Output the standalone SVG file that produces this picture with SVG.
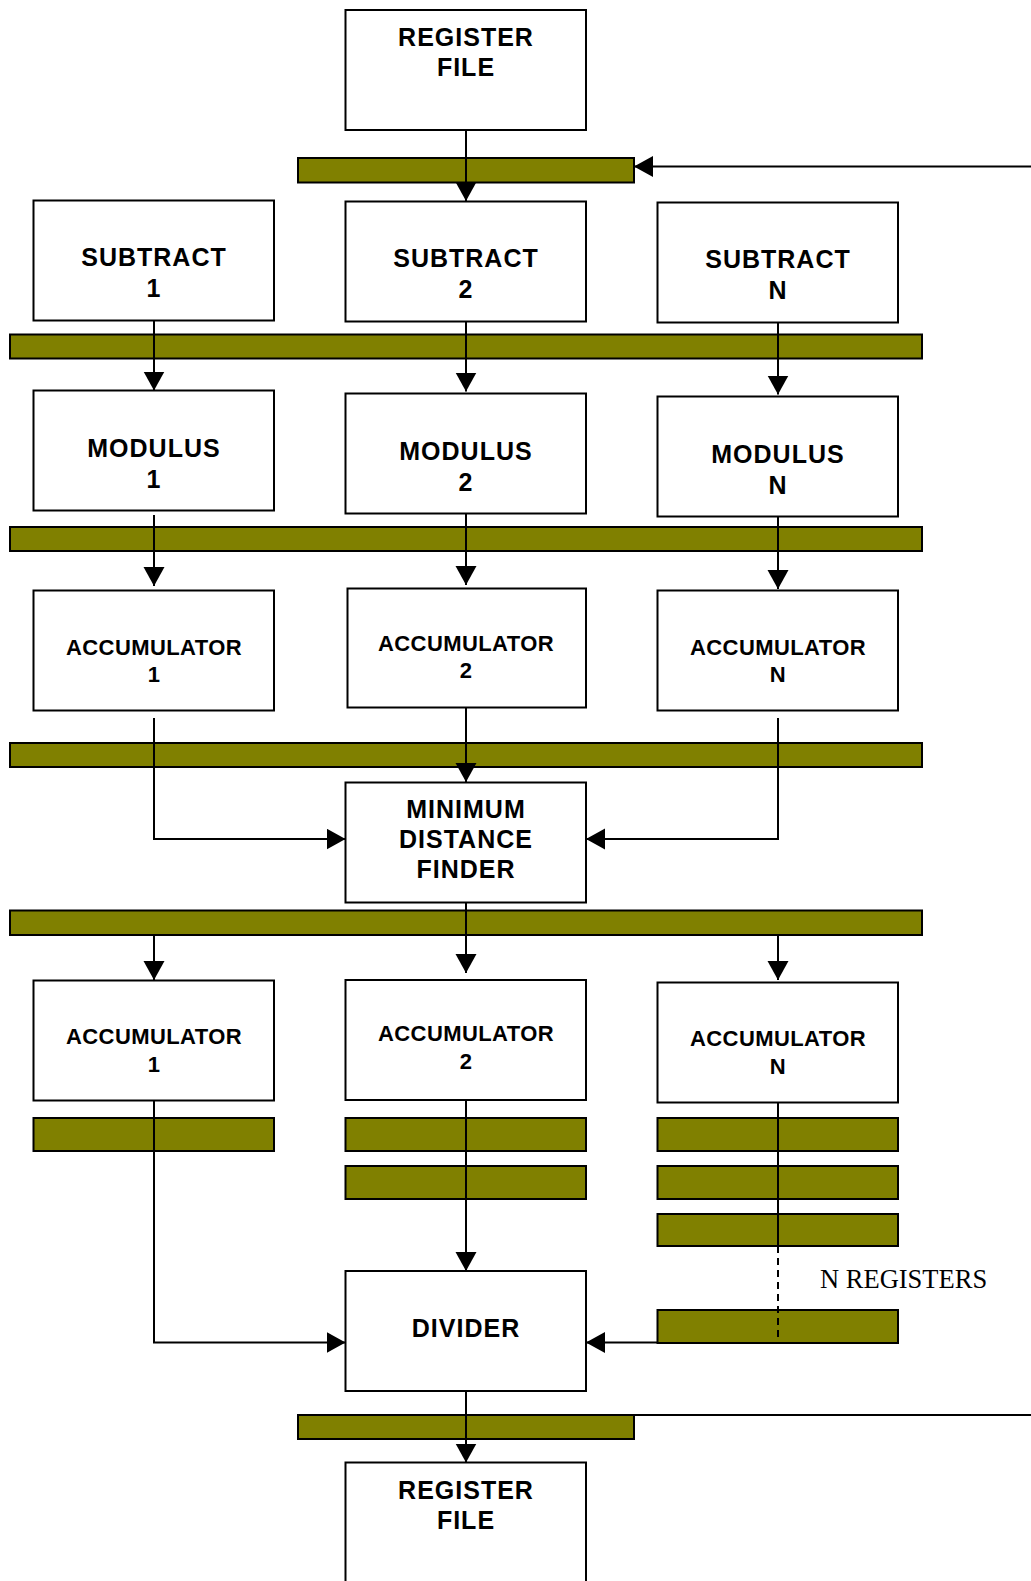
<svg xmlns="http://www.w3.org/2000/svg" width="1031" height="1581" viewBox="0 0 1031 1581">
  <style>
    .box { fill: #ffffff; stroke: #000000; stroke-width: 2; }
    .reg { fill: #808000; stroke: #000000; stroke-width: 2; }
    .lbl { font-family: "Liberation Sans", Arial, sans-serif; font-weight: bold; font-size: 25px; letter-spacing: 1px; text-anchor: middle; fill: #000000; }
    .acc { font-size: 22px; letter-spacing: 0.4px; }
    .note { font-family: "Liberation Serif", "Times New Roman", serif; font-size: 26.5px; fill: #000000; }
    .wire { fill: none; stroke: #000000; stroke-width: 2; }
    .arr { marker-end: url(#head); }
    .dash { stroke-dasharray: 7 5; }
  </style>
  <defs>
    <marker id="head" markerUnits="userSpaceOnUse" markerWidth="20" markerHeight="22" refX="19" refY="10.5" orient="auto">
      <path d="M0,0 L19,10.5 L0,21 z" fill="#000000"/>
    </marker>
  </defs>
  <rect width="1031" height="1581" fill="#ffffff"/>

  <!-- pipeline registers (olive bars) -->
  <g id="registers">
    <rect class="reg" x="298" y="158" width="336" height="24.5"/>
    <rect class="reg" x="10" y="334.5" width="912" height="24"/>
    <rect class="reg" x="10" y="527" width="912" height="24"/>
    <rect class="reg" x="10" y="743" width="912" height="24"/>
    <rect class="reg" x="10" y="910.5" width="912" height="24.5"/>
    <rect class="reg" x="33.5" y="1118" width="240.5" height="33"/>
    <rect class="reg" x="345.5" y="1118" width="240.5" height="33"/>
    <rect class="reg" x="345.5" y="1166" width="240.5" height="33"/>
    <rect class="reg" x="657.5" y="1118" width="240.5" height="33"/>
    <rect class="reg" x="657.5" y="1166" width="240.5" height="33"/>
    <rect class="reg" x="657.5" y="1214" width="240.5" height="32"/>
    <rect class="reg" x="657.5" y="1310" width="240.5" height="33"/>
    <rect class="reg" x="298" y="1415" width="336" height="24"/>
  </g>

  <!-- connectors -->
  <g id="connectors">
    <line class="wire arr" x1="1031" y1="166.5" x2="634" y2="166.5"/>
    <line class="wire arr" x1="466" y1="130" x2="466" y2="201"/>
    <line class="wire arr" x1="154" y1="320.5" x2="154" y2="390.5"/>
    <line class="wire arr" x1="466" y1="321.5" x2="466" y2="391.5"/>
    <line class="wire arr" x1="778" y1="322.5" x2="778" y2="394.5"/>
    <line class="wire arr" x1="154" y1="515" x2="154" y2="586"/>
    <line class="wire arr" x1="466" y1="514" x2="466" y2="585"/>
    <line class="wire arr" x1="778" y1="517" x2="778" y2="589"/>
    <polyline class="wire arr" points="154,718 154,839 345.5,839"/>
    <polyline class="wire arr" points="778,718 778,839 586,839"/>
    <line class="wire arr" x1="466" y1="708" x2="466" y2="782"/>
    <line class="wire arr" x1="154" y1="935" x2="154" y2="980"/>
    <line class="wire arr" x1="466" y1="902.5" x2="466" y2="973"/>
    <line class="wire arr" x1="778" y1="935" x2="778" y2="980"/>
    <polyline class="wire arr" points="154,1100.5 154,1342.5 345.5,1342.5"/>
    <line class="wire arr" x1="466" y1="1098" x2="466" y2="1271"/>
    <line class="wire" x1="778" y1="1103" x2="778" y2="1246"/>
    <line class="wire dash" x1="778" y1="1246" x2="778" y2="1342"/>
    <line class="wire arr" x1="657.5" y1="1342.5" x2="586" y2="1342.5"/>
    <line class="wire" x1="634" y1="1415" x2="1031" y2="1415"/>
    <line class="wire arr" x1="466" y1="1391" x2="466" y2="1462.5"/>
  </g>

  <g id="register-file-in">
    <rect class="box" x="345.5" y="10" width="240.5" height="120"/>
    <text class="lbl" x="466" y="45.5">REGISTER</text>
    <text class="lbl" x="466" y="76">FILE</text>
  </g>

  <g id="subtract-1">
    <rect class="box" x="33.5" y="200.5" width="240.5" height="120"/>
    <text class="lbl" x="154" y="265.5">SUBTRACT</text>
    <text class="lbl" x="154" y="296.5">1</text>
  </g>
  <g id="subtract-2">
    <rect class="box" x="345.5" y="201.5" width="240.5" height="120"/>
    <text class="lbl" x="466" y="266.5">SUBTRACT</text>
    <text class="lbl" x="466" y="297.5">2</text>
  </g>
  <g id="subtract-n">
    <rect class="box" x="657.5" y="202.5" width="240.5" height="120"/>
    <text class="lbl" x="778" y="267.5">SUBTRACT</text>
    <text class="lbl" x="778" y="298.5">N</text>
  </g>

  <g id="modulus-1">
    <rect class="box" x="33.5" y="390.5" width="240.5" height="120"/>
    <text class="lbl" x="154" y="456.5">MODULUS</text>
    <text class="lbl" x="154" y="487.5">1</text>
  </g>
  <g id="modulus-2">
    <rect class="box" x="345.5" y="393.5" width="240.5" height="120"/>
    <text class="lbl" x="466" y="459.5">MODULUS</text>
    <text class="lbl" x="466" y="490.5">2</text>
  </g>
  <g id="modulus-n">
    <rect class="box" x="657.5" y="396.5" width="240.5" height="120"/>
    <text class="lbl" x="778" y="462.5">MODULUS</text>
    <text class="lbl" x="778" y="493.5">N</text>
  </g>

  <g id="accumulator-a1">
    <rect class="box" x="33.5" y="590.5" width="240.5" height="120"/>
    <text class="lbl acc" x="154" y="654.5">ACCUMULATOR</text>
    <text class="lbl acc" x="154" y="682">1</text>
  </g>
  <g id="accumulator-a2">
    <rect class="box" x="347.5" y="588.5" width="238.5" height="119"/>
    <text class="lbl acc" x="466" y="650.5">ACCUMULATOR</text>
    <text class="lbl acc" x="466" y="677.5">2</text>
  </g>
  <g id="accumulator-an">
    <rect class="box" x="657.5" y="590.5" width="240.5" height="120"/>
    <text class="lbl acc" x="778" y="654.5">ACCUMULATOR</text>
    <text class="lbl acc" x="778" y="682">N</text>
  </g>

  <g id="minimum-distance-finder">
    <rect class="box" x="345.5" y="782.5" width="240.5" height="120"/>
    <text class="lbl" x="466" y="818">MINIMUM</text>
    <text class="lbl" x="466" y="848">DISTANCE</text>
    <text class="lbl" x="466" y="878">FINDER</text>
  </g>

  <g id="accumulator-b1">
    <rect class="box" x="33.5" y="980.5" width="240.5" height="120"/>
    <text class="lbl acc" x="154" y="1044">ACCUMULATOR</text>
    <text class="lbl acc" x="154" y="1072">1</text>
  </g>
  <g id="accumulator-b2">
    <rect class="box" x="345.5" y="980" width="240.5" height="120"/>
    <text class="lbl acc" x="466" y="1041">ACCUMULATOR</text>
    <text class="lbl acc" x="466" y="1069">2</text>
  </g>
  <g id="accumulator-bn">
    <rect class="box" x="657.5" y="982.5" width="240.5" height="120"/>
    <text class="lbl acc" x="778" y="1046">ACCUMULATOR</text>
    <text class="lbl acc" x="778" y="1074">N</text>
  </g>

  <g id="n-registers-note">
    <text class="note" x="820" y="1288">N REGISTERS</text>
  </g>

  <g id="divider">
    <rect class="box" x="345.5" y="1271" width="240.5" height="120"/>
    <text class="lbl" x="466" y="1337">DIVIDER</text>
  </g>

  <g id="register-file-out">
    <rect class="box" x="345.5" y="1462.5" width="240.5" height="130"/>
    <text class="lbl" x="466" y="1498.5">REGISTER</text>
    <text class="lbl" x="466" y="1528.5">FILE</text>
  </g>
</svg>
